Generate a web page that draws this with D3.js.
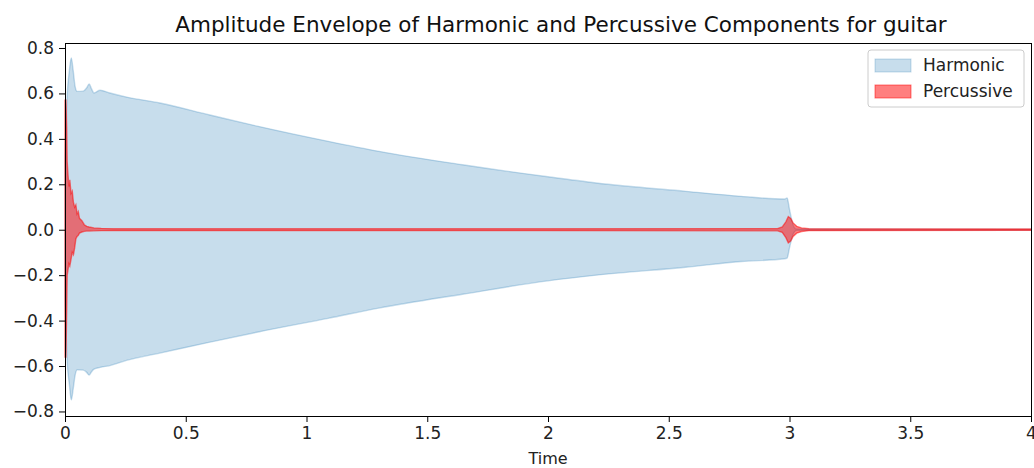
<!DOCTYPE html>
<html>
<head>
<meta charset="utf-8">
<script src="https://cdn.jsdelivr.net/npm/d3@7"></script>
<style>
  body { margin: 0; background: #fff; }
  svg { font-family: "DejaVu Sans", sans-serif; }
</style>
</head>
<body>
<script>
// harmonic envelope
var harmonicTime  = [0.000, 0.008, 0.018, 0.026, 0.034, 0.042, 0.050, 0.075, 0.090, 0.100, 0.110, 0.120, 0.145, 0.186, 0.255, 0.393, 0.600, 0.800, 1.090, 1.300, 1.646, 2.000, 2.200, 2.570, 2.800, 2.980, 2.990, 3.000, 3.010, 3.020, 3.030, 4.000];
var harmonicUpper = [0.30, 0.57, 0.70, 0.756, 0.70, 0.63, 0.609, 0.610, 0.625, 0.642, 0.620, 0.602, 0.614, 0.602, 0.584, 0.558, 0.505, 0.455, 0.389, 0.345, 0.286, 0.233, 0.206, 0.169, 0.147, 0.135, 0.140, 0.090, 0.040, 0.010, 0.003, 0.002];
var harmonicLower = [-0.30, -0.56, -0.68, -0.749, -0.70, -0.64, -0.617, -0.618, -0.628, -0.640, -0.625, -0.614, -0.606, -0.598, -0.575, -0.543, -0.495, -0.450, -0.390, -0.345, -0.284, -0.225, -0.200, -0.165, -0.140, -0.128, -0.125, -0.080, -0.035, -0.010, -0.003, -0.002];

// percussive envelope
var percussiveTime  = [0.000, 0.004, 0.007, 0.009, 0.012, 0.016, 0.020, 0.025, 0.030, 0.035, 0.040, 0.045, 0.050, 0.055, 0.060, 0.070, 0.080, 0.090, 0.100, 0.120, 0.150, 0.200, 1.000, 2.000, 2.950, 2.970, 2.985, 2.995, 3.005, 3.015, 3.030, 3.050, 3.080, 4.000];
var percussiveUpper = [0.57, 0.57, 0.45, 0.30, 0.25, 0.19, 0.22, 0.16, 0.17, 0.12, 0.10, 0.11, 0.07, 0.08, 0.05, 0.04, 0.022, 0.015, 0.012, 0.008, 0.006, 0.004, 0.004, 0.004, 0.005, 0.012, 0.035, 0.058, 0.050, 0.030, 0.015, 0.008, 0.004, 0.003];
var percussiveLower = [-0.56, -0.56, -0.35, -0.20, -0.18, -0.15, -0.16, -0.13, -0.10, -0.11, -0.08, -0.04, -0.03, -0.025, -0.015, -0.010, -0.007, -0.006, -0.006, -0.005, -0.004, -0.004, -0.004, -0.004, -0.005, -0.012, -0.035, -0.058, -0.050, -0.030, -0.015, -0.008, -0.004, -0.003];

var xTicks = [0, 0.5, 1, 1.5, 2, 2.5, 3, 3.5, 4];
var yTicks = [-0.8, -0.6, -0.4, -0.2, 0, 0.2, 0.4, 0.6, 0.8];
var legendNames = ["Harmonic", "Percussive"];

var W = 1034, H = 468;
var margin = {top: 43, right: 3, bottom: 52, left: 65};
var width = W - margin.left - margin.right,
    height = H - margin.top - margin.bottom;
var fs = 17; // base font px

var svg = d3.select("body").append("svg")
    .attr("width", W)
    .attr("height", H);

var g = svg.append("g")
    .attr("transform", "translate(" + margin.left + "," + margin.top + ")");

var x = d3.scaleLinear().domain([0, 4]).range([0, width]);
var y = d3.scaleLinear().domain([-0.82, 0.822]).range([height, 0]);

function rows(t, up, lo) {
    return t.map(function(d, i) { return {t: d, hi: up[i], lo: lo[i]}; });
}

var area = d3.area()
    .x(function(d) { return x(d.t); })
    .y0(function(d) { return y(d.lo); })
    .y1(function(d) { return y(d.hi); });

g.append("path")
    .datum(rows(harmonicTime, harmonicUpper, harmonicLower))
    .attr("d", area.curve(d3.curveMonotoneX))
    .attr("fill", "#1f77b4").attr("fill-opacity", 0.25)
    .attr("stroke", "#1f77b4").attr("stroke-opacity", 0.25)
    .attr("stroke-width", 1.4);

g.append("path")
    .datum(rows(percussiveTime, percussiveUpper, percussiveLower))
    .attr("d", area.curve(d3.curveLinear))
    .attr("fill", "#ff0000").attr("fill-opacity", 0.5)
    .attr("stroke", "#ff0000").attr("stroke-opacity", 0.5)
    .attr("stroke-width", 1.4);

// axes
var fmt = function(d) { return d === 0 ? "0" : d3.format("")(d); };
var xAxis = g.append("g")
    .attr("transform", "translate(0," + height + ")")
    .call(d3.axisBottom(x).tickValues(xTicks).tickSize(6).tickPadding(5).tickFormat(fmt));
var yAxis = g.append("g")
    .call(d3.axisLeft(y).tickValues(yTicks).tickSize(6).tickPadding(5).tickFormat(function(d) {
        return d3.format(".1f")(d).replace("-", "\u2212");
    }));

[xAxis, yAxis].forEach(function(a) {
    a.select(".domain").remove();
    a.selectAll("line").attr("stroke", "#000").attr("stroke-width", 1);
    a.selectAll("text").attr("fill", "#222").style("font-size", fs + "px")
        .style("font-family", "DejaVu Sans");
});

// frame
g.append("rect")
    .attr("width", width).attr("height", height)
    .attr("fill", "none").attr("stroke", "#000").attr("stroke-width", 1)
    .attr("shape-rendering", "crispEdges");

svg.append("text")
    .attr("x", margin.left + width / 2).attr("y", 459)
    .attr("text-anchor", "middle").attr("dominant-baseline", "middle")
    .attr("fill", "#222")
    .style("font-size", "16px").text("Time");

svg.append("text")
    .attr("x", 561).attr("y", 32)
    .attr("text-anchor", "middle")
    .attr("fill", "#111")
    .style("font-size", "21.5px").text("Amplitude Envelope of Harmonic and Percussive Components for guitar");

// legend
var lg = svg.append("g").attr("transform", "translate(868,50)");
lg.append("rect")
    .attr("width", 156).attr("height", 57).attr("rx", 3)
    .attr("fill", "#fff").attr("fill-opacity", 0.8)
    .attr("stroke", "#ccc").attr("stroke-width", 1);
var legendFill = [["#1f77b4", 0.25], ["#ff0000", 0.5]];
legendNames.forEach(function(name, i) {
    lg.append("rect")
        .attr("x", 7).attr("y", 9 + i * 26).attr("width", 36).attr("height", 13)
        .attr("fill", legendFill[i][0]).attr("fill-opacity", legendFill[i][1])
        .attr("stroke", legendFill[i][0]).attr("stroke-opacity", legendFill[i][1]);
    lg.append("text")
        .attr("x", 55).attr("y", 21 + i * 26)
        .attr("fill", "#222")
        .style("font-size", fs + "px").text(name);
});
</script>
</body>
</html>
